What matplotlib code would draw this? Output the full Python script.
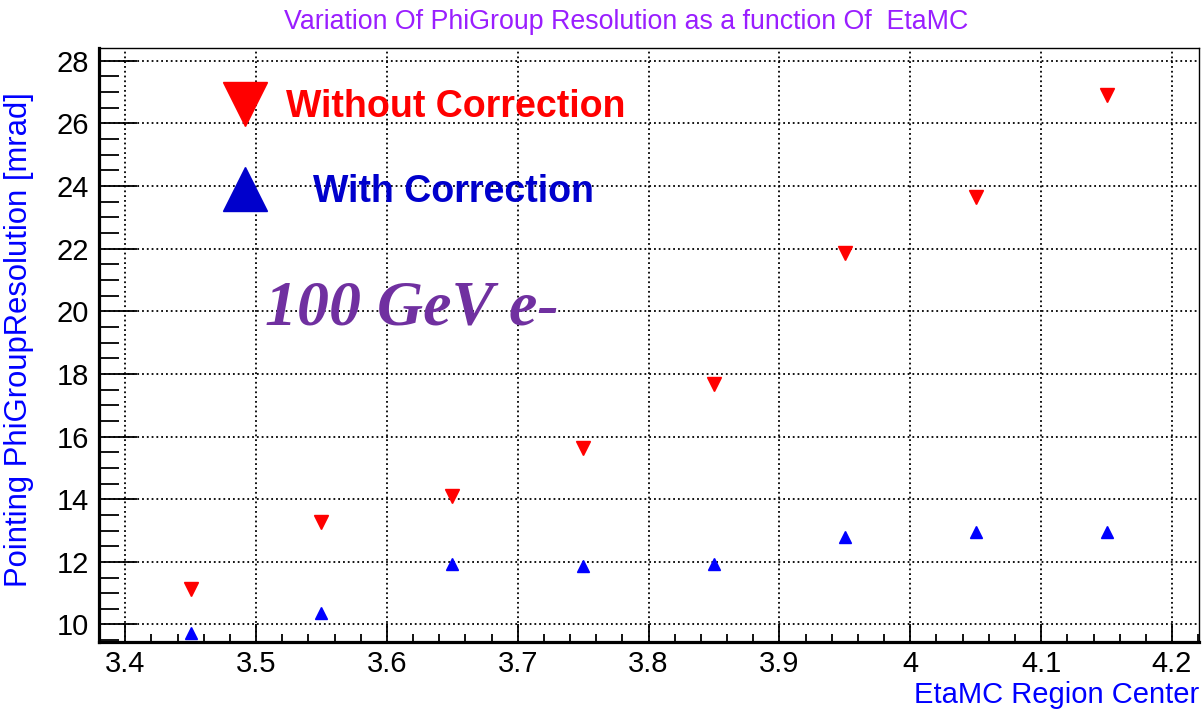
import matplotlib
matplotlib.use("Agg")
import matplotlib.pyplot as plt
from matplotlib.lines import Line2D
from matplotlib.ticker import MultipleLocator, FormatStrFormatter

plt.rcParams['font.family'] = ['Liberation Sans', 'DejaVu Sans']

# EtaMC region centers and resolutions [mrad]
eta_centers = [3.45, 3.55, 3.65, 3.75, 3.85, 3.95, 4.05, 4.15]
res_without = [11.12, 13.26, 14.10, 15.64, 17.68, 21.86, 23.66, 26.90]
res_with = [9.72, 10.38, 11.94, 11.87, 11.93, 12.80, 12.95, 12.95]

title = "Variation Of PhiGroup Resolution as a function Of  EtaMC"
x_label = "EtaMC Region Center"
y_label = "Pointing PhiGroupResolution [mrad]"
label_without = "Without Correction"
label_with = "With Correction"
energy_label = "100 GeV e-"

W, H = 1203, 711
fig = plt.figure(figsize=(W / 100, H / 100), dpi=100)
ax = fig.add_axes([99 / W, 1 - 641.7 / H, 1100 / W, 593.4 / H])

ax.plot(eta_centers, res_without, linestyle='none', marker='v', ms=10, color='#ff0000', mec='#ff0000')
ax.plot(eta_centers, res_with, linestyle='none', marker='^', ms=8.5, color='#0000ff', mec='#0000ff')

ax.set_xlim(3.38, 4.2206)
ax.set_ylim(9.45, 28.4)

ax.xaxis.set_major_locator(MultipleLocator(0.1))
ax.xaxis.set_minor_locator(MultipleLocator(0.02))
ax.yaxis.set_major_locator(MultipleLocator(2))
ax.yaxis.set_minor_locator(MultipleLocator(0.5))
ax.xaxis.set_major_formatter(FormatStrFormatter('%g'))
ax.yaxis.set_major_formatter(FormatStrFormatter('%g'))

ax.tick_params(axis='both', which='both', direction='in', top=False, right=False,
               labelsize=21, width=1.3, color='black')
ax.tick_params(axis='x', which='major', length=13, pad=6)
ax.tick_params(axis='x', which='minor', length=6)
ax.tick_params(axis='y', which='major', length=27, pad=7)
ax.tick_params(axis='y', which='minor', length=14.5)

ax.grid(which='major', linestyle=':', color='black', linewidth=1.3)

for side in ['left', 'bottom']:
    ax.spines[side].set_linewidth(2.3)
for side in ['top', 'right']:
    ax.spines[side].set_linewidth(1.0)

ax.set_xlabel(x_label, fontsize=21, color='#0000ff', loc='right', labelpad=2)
ax.set_ylabel(y_label, fontsize=22.3, color='#0000ff')
ax.yaxis.set_label_coords(-0.059, 0.51)

fig.text(626 / W, 1 - 22 / H, title, fontsize=19.3, color='#9a1eff', ha='center', va='center')

# legend entries, placed separately like the pasted annotation
h_without = Line2D([], [], linestyle='none', marker='v', ms=32, color='#ff0000')
h_with = Line2D([], [], linestyle='none', marker='^', ms=32, color='#0000cc')
leg1 = ax.legend([h_without], [label_without], loc='center left', bbox_to_anchor=(0.1123, 0.901),
                 frameon=False, borderpad=0, borderaxespad=0, handlelength=1.2, handletextpad=0.5,
                 prop={'weight': 'bold', 'size': 27}, labelcolor='#ff0000')
ax.add_artist(leg1)
ax.legend([h_with], [label_with], loc='center left', bbox_to_anchor=(0.1123, 0.758),
          frameon=False, borderpad=0, borderaxespad=0, handlelength=1.2, handletextpad=1.2,
          prop={'weight': 'bold', 'size': 27}, labelcolor='#0000cc')

ax.text(0.151, 0.559, energy_label, transform=ax.transAxes, fontsize=46, color='#7030a0',
        family='Liberation Serif', weight='bold', style='italic', va='center', ha='left')

fig.savefig("out.png", dpi=100)
